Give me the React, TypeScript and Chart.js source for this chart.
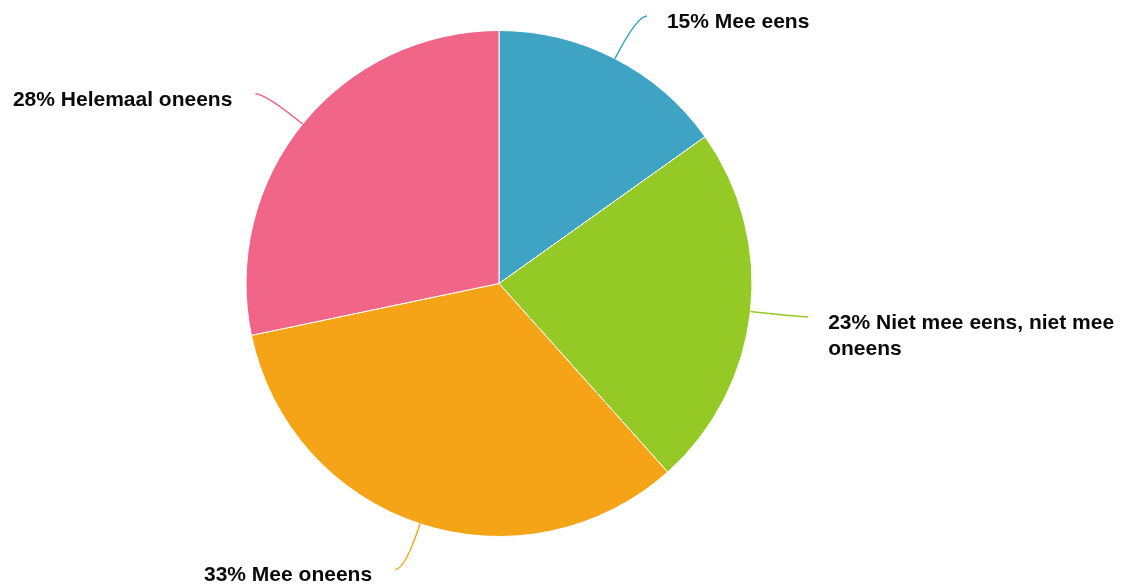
import React, { useEffect, useRef } from "react";
import { Chart, registerables } from "chart.js";

Chart.register(...registerables);

const categories = [
  "Mee eens",
  "Niet mee eens, niet mee oneens",
  "Mee oneens",
  "Helemaal oneens",
];
const values = [15, 23, 33, 28];
const colors = ["#3FA3C4", "#95C926", "#F5A418", "#F06588"];

const FONT = 'bold 21px "Liberation Sans", Arial, Helvetica, sans-serif';

function wrapText(ctx: CanvasRenderingContext2D, text: string, maxWidth: number): string[] {
  const words = text.split(" ");
  const lines: string[] = [];
  let cur = "";
  for (const w of words) {
    const test = cur ? cur + " " + w : w;
    if (ctx.measureText(test).width > maxWidth && cur) {
      lines.push(cur);
      cur = w;
    } else {
      cur = test;
    }
  }
  if (cur) lines.push(cur);
  return lines;
}

const outerLabels = {
  id: "outerLabels",
  afterDraw(chart: any) {
    const ctx: CanvasRenderingContext2D = chart.ctx;
    const meta = chart.getDatasetMeta(0);
    const data: number[] = chart.data.datasets[0].data;
    const total = data.reduce((a, b) => a + b, 0);
    ctx.save();
    ctx.font = FONT;
    meta.data.forEach((arc: any, i: number) => {
      const { x, y, startAngle, endAngle, outerRadius } = arc.getProps(
        ["x", "y", "startAngle", "endAngle", "outerRadius"],
        true
      );
      const mid = (startAngle + endAngle) / 2;
      const dx = Math.cos(mid);
      const dy = Math.sin(mid);
      const ex = x + outerRadius * dx;
      const ey = y + outerRadius * dy;
      const cx = ex + 48 * dx;
      const cy = ey + 48 * dy;
      const sign = dx >= 0 ? 1 : -1;
      const endX = cx + sign * 10;
      const endY = cy;
      ctx.beginPath();
      ctx.strokeStyle = colors[i];
      ctx.lineWidth = 1.5;
      ctx.moveTo(ex, ey);
      ctx.quadraticCurveTo(cx, cy, endX, endY);
      ctx.stroke();

      const pct = Math.round((data[i] / total) * 100);
      const text = pct + "% " + categories[i];
      const tx = endX + sign * (sign > 0 ? 20 : 23);
      const maxW = sign > 0 ? chart.width - tx - 5 : tx - 5;
      const lines = wrapText(ctx, text, maxW);
      ctx.fillStyle = "#0a0a0a";
      ctx.textAlign = sign > 0 ? "left" : "right";
      ctx.textBaseline = "alphabetic";
      lines.forEach((ln, k) => {
        ctx.fillText(ln, tx, endY + 12 + k * 26);
      });
    });
    ctx.restore();
  },
};

export default function App() {
  const ref = useRef<HTMLCanvasElement>(null);
  useEffect(() => {
    document.body.style.margin = "0";
    const chart = new Chart(ref.current!, {
      type: "pie",
      data: {
        labels: categories,
        datasets: [
          {
            data: values,
            backgroundColor: colors,
            borderColor: "#ffffff",
            borderWidth: 1,
          },
        ],
      },
      options: {
        responsive: false,
        animation: false,
        layout: { padding: { top: 30, bottom: 51, left: 0, right: 128 } },
        plugins: {
          legend: { display: false },
          tooltip: { enabled: false },
        },
      },
      plugins: [outerLabels],
    });
    return () => chart.destroy();
  }, []);
  return (
    <div style={{ width: 1126, height: 588 }}>
      <canvas ref={ref} width={1126} height={588} style={{ display: "block" }} />
    </div>
  );
}
